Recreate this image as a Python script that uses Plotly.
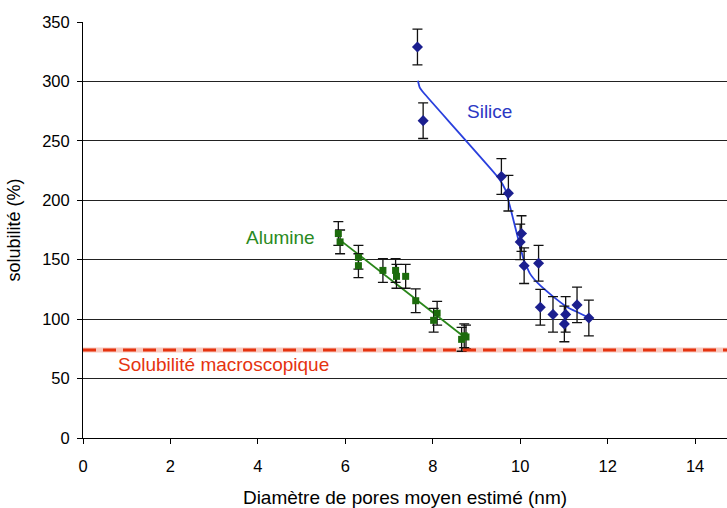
import plotly.graph_objects as go

# ---- data ----
silice_x = [7.65, 7.78, 9.57, 9.73, 10.03, 10.00, 10.09, 10.42, 10.46, 10.75, 11.04, 11.01, 11.30, 11.57]
silice_y = [329, 267, 220, 206, 172, 165, 145, 147, 110, 104, 104, 96, 112, 101]
silice_err = [15, 15, 15, 15, 15, 15, 15, 15, 15, 15, 15, 15, 15, 15]

silice_fit_x = [7.66, 7.70, 7.80, 9.50, 9.66, 9.80, 9.95, 10.08, 10.22, 10.41, 10.72, 11.06, 11.56]
silice_fit_y = [300.5, 295, 290, 219, 209, 190, 168, 150, 138.5, 130, 120, 110.5, 101.5]

alumine_x = [5.84, 5.88, 6.30, 6.30, 6.86, 7.15, 7.17, 7.38, 7.61, 8.10, 8.02, 8.66, 8.72, 8.76]
alumine_y = [172, 165, 152, 145, 141, 141, 136, 136, 115.5, 105, 99, 83, 86, 85]
alumine_err = [10, 10, 10, 10, 10, 10, 10, 10, 10, 10, 10, 10, 10, 10]

alumine_fit_x = [5.88, 8.72]
alumine_fit_y = [166.5, 85.0]

macro_solubility = 74

x_ticks = [0, 2, 4, 6, 8, 10, 12, 14]
y_ticks = [0, 50, 100, 150, 200, 250, 300, 350]

x_title = "Diamètre de pores moyen estimé (nm)"
y_title = "solubilité (%)"
label_silice = "Silice"
label_alumine = "Alumine"
label_macro = "Solubilité macroscopique"

# ---- styles ----
FONT = "Liberation Sans, Arial, sans-serif"
C_SIL_MK = "#1b1f8f"
C_SIL_LN = "#2a40dd"
C_SIL_TX = "#2b37c4"
C_ALU_MK = "#1c6b0c"
C_ALU_LN = "#2a861a"
C_ALU_TX = "#2a8a22"
C_RED = "#e5330f"

fig = go.Figure()

# macroscopic solubility (halo + dashed line)
fig.add_shape(type="line", xref="paper", yref="y", x0=0, x1=1,
              y0=macro_solubility, y1=macro_solubility,
              line=dict(color="#f7c9bf", width=5), layer="below")
fig.add_shape(type="line", xref="paper", yref="y", x0=0, x1=1,
              y0=macro_solubility, y1=macro_solubility,
              line=dict(color=C_RED, width=3, dash="13px,7px"))

# fit lines
fig.add_trace(go.Scatter(x=silice_fit_x, y=silice_fit_y, mode="lines",
                         line=dict(color=C_SIL_LN, width=1.8, shape="spline", smoothing=0.35),
                         hoverinfo="skip", showlegend=False))
fig.add_trace(go.Scatter(x=alumine_fit_x, y=alumine_fit_y, mode="lines",
                         line=dict(color=C_ALU_LN, width=1.8),
                         hoverinfo="skip", showlegend=False))

# data points with error bars
fig.add_trace(go.Scatter(x=silice_x, y=silice_y, mode="markers",
                         marker=dict(symbol="diamond", size=8.5, color=C_SIL_MK),
                         error_y=dict(type="data", array=silice_err, visible=True,
                                      color="#111111", thickness=1.3, width=5),
                         showlegend=False))
fig.add_trace(go.Scatter(x=alumine_x, y=alumine_y, mode="markers",
                         marker=dict(symbol="square", size=7, color=C_ALU_MK),
                         error_y=dict(type="data", array=alumine_err, visible=True,
                                      color="#111111", thickness=1.3, width=5),
                         showlegend=False))

fig.add_annotation(x=9.29, y=275, text=label_silice, showarrow=False,
                   font=dict(family=FONT, size=19, color=C_SIL_TX))
fig.add_annotation(x=4.51, y=169, text=label_alumine, showarrow=False,
                   font=dict(family=FONT, size=19, color=C_ALU_TX))
fig.add_annotation(x=3.22, y=62, text=label_macro, showarrow=False,
                   font=dict(family=FONT, size=19, color=C_RED))

fig.update_layout(
    width=727, height=508,
    margin=dict(l=83, r=0, t=22, b=70, autoexpand=False),
    paper_bgcolor="white", plot_bgcolor="white",
    font=dict(family=FONT, size=16, color="black"),
    showlegend=False,
)
fig.update_xaxes(range=[0, 14.73], tickvals=x_ticks, ticktext=[str(v) for v in x_ticks],
                 showgrid=False, zeroline=False, showline=True, linecolor="black", linewidth=1,
                 ticks="outside", ticklen=5, tickcolor="black", ticklabelstandoff=8,
                 title=dict(text=x_title, font=dict(size=19), standoff=21),
                 tickfont=dict(size=16.5))
fig.update_yaxes(range=[0, 350], tickvals=y_ticks, ticktext=[str(v) for v in y_ticks],
                 showgrid=True, gridcolor="#222222", gridwidth=1, zeroline=False,
                 showline=True, linecolor="black", linewidth=1,
                 ticks="outside", ticklen=5, tickcolor="black", ticklabelstandoff=4,
                 title=dict(text=y_title, font=dict(size=18), standoff=16),
                 tickfont=dict(size=16.5))

fig.write_html("out.html", config={"displayModeBar": False},
               post_script="document.body.style.margin='0';document.body.style.overflow='hidden';")
